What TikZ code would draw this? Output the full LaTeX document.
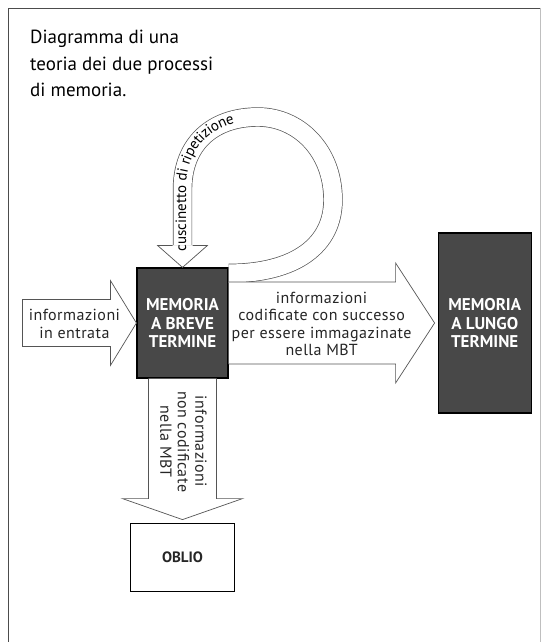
\documentclass[tikz,border=0pt]{standalone}
\usepackage{fontspec}
\setmainfont{PT Sans}
\newfontfamily\spacedfont[LetterSpace=3]{PT Sans}
\definecolor{boxgray}{RGB}{72,72,72}
\definecolor{edgegray}{RGB}{85,85,85}
\usetikzlibrary{positioning, calc, decorations.text}
\newcommand{\loopfont}{\spacedfont\fontsize{15}{15}\selectfont}

\begin{document}
\begin{tikzpicture}[x=1pt, y=-1pt, node distance=209pt,
    memorybox/.style={rectangle, draw=black, fill=boxgray, line width=1.2pt, text=white,
        font=\fontsize{17}{18.5}\selectfont\bfseries, align=center, inner sep=0pt},
    blockarrow/.style={draw=edgegray, fill=white, line width=0.7pt, line join=miter},
    arrowtext/.style={font=\spacedfont\fontsize{16}{17.5}\selectfont, align=center, text=black!85, inner sep=0pt}]

    \useasboundingbox (0,0) rectangle (543,642);
    % Outer frame, open at the bottom
    \draw[line width=0.9pt, black!70] (8,642) -- (8,8) -- (540,8);
    \draw[line width=0.5pt, black!25] (540,8) -- (540,642);

    % Caption
    \node[anchor=north west, align=left, font=\fontsize{19}{26.5}\selectfont, inner sep=0pt] (caption) at (30,30) {Diagramma di una\\teoria dei due processi\\di memoria.};

    % Memory stores
    \node[memorybox, minimum width=91pt, minimum height=110pt] (mbt) at (182.5,323) {MEMORIA\\A BREVE\\TERMINE};
    \node[memorybox, minimum width=93pt, minimum height=180pt, right=of mbt] (mlt) {MEMORIA\\A LUNGO\\TERMINE};
    \node[rectangle, draw=black, fill=white, line width=1.2pt, minimum width=104pt, minimum height=68pt,
        font=\fontsize{15}{16}\selectfont\bfseries, text=black!85, below=144pt of mbt] (oblio) {OBLIO};

    % Rehearsal loop
    \coordinate (loopstart) at ($(mbt.north east)+(0,6)$);
    \coordinate (loopend) at ($(mbt.north)+(0,-22)$);
    \draw[edgegray, line width=0.7pt, double=white, double distance=18pt] (loopstart)
        .. controls +(67,0) and +(0,45) .. (333,200)
        .. controls +(0,-50) and +(40,0) .. (258,117)
        .. controls +(-46,0) and +(0,-45) .. ($(loopend)+(0,-56)$) -- (loopend);
    \draw[blockarrow] ($(loopend)+(-10,0)$) -- ++(-15,0) -- (mbt.north) -- ($(loopend)+(25,0)$) -- ++(-15,0);
    \path[decorate, decoration={text along path, raise=-3.5pt, text align={left indent=0pt},
        text={|\loopfont|cuscinetto di ripetizione}}]
        ($(loopend)+(0,6)$) -- ($(loopend)+(0,-56)$)
        .. controls +(0,-45) and +(-46,0) .. (258,117)
        .. controls +(40,0) and +(0,-50) .. (333,200);

    % Incoming information
    \draw[blockarrow] (mbt.west) -- ++(-26,-42.5) -- ++(0,19) -- ++(-88,0) -- ++(0,47) -- ++(88,0) -- ++(0,19) -- cycle;
    \node[arrowtext] (intext) at ($(mbt.west)+(-62,1)$) {informazioni\\in entrata};

    % Encoded information to long term store
    \draw[blockarrow] ($(mbt.east)+(0,-41)$) -- ($(mlt.west)+(-42,-41)$) -- ++(0,-19) -- ($(mlt.west)+(-3,0)$)
        -- ($(mlt.west)+(-42,60)$) -- ++(0,-19) -- ($(mbt.east)+(0,41)$);
    \node[arrowtext] (storedtext) at ($(mbt.east)+(93,1)$) {informazioni\\codificate con successo\\per essere immagazinate\\nella MBT};

    % Forgotten information
    \draw[blockarrow] ($(mbt.south)+(-34,0)$) -- ++(0,120) -- ++(-26,0) -- ($(oblio.north)+(0,-3)$)
        -- ($(mbt.south)+(60,120)$) -- ++(-26,0) -- ($(mbt.south)+(34,0)$);
    \node[arrowtext, rotate=-90] (losttext) at ($(mbt.south)+(1,63)$) {informazioni\\non codificate\\nella MBT};
\end{tikzpicture}
\end{document}
